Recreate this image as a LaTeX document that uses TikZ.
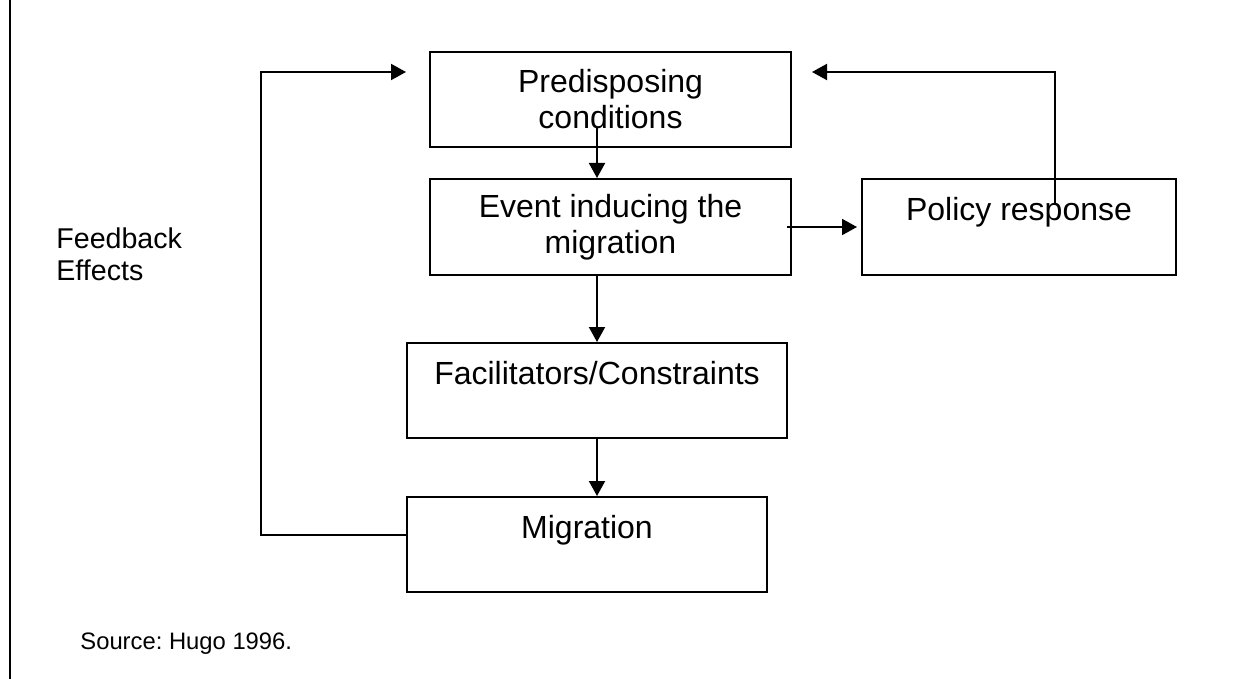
\documentclass[tikz,border=0pt]{standalone}
\usepackage{fontspec}
\setmainfont{Liberation Sans}
\frenchspacing
\usetikzlibrary{arrows.meta}

\begin{document}
\begin{tikzpicture}[
  x=0.5pt, y=-0.5pt,
  every node/.style={align=center},
  stage/.style={draw, line width=1pt, inner sep=0pt, font=\fontsize{16}{18}\selectfont},
  note/.style={inner sep=0pt, align=left},
  arr/.style={-{Triangle[length=7.5pt,width=8pt]}, line width=1pt},
]
\useasboundingbox (0,0) rectangle (1252,679);
\draw[line width=1pt] (9.5,0) -- (9.5,679);

\node[stage, minimum width=180.5pt, minimum height=47.5pt] (pre) at (610.5,99.5) {Predisposing\\conditions};
\node[stage, minimum width=180.5pt, minimum height=48pt] (evt) at (610.5,227) {Event inducing the\\migration};
\node[stage, minimum width=157pt, minimum height=48pt] (pol) at (1019,227) {Policy response\\\mbox{}};
\node[stage, minimum width=190pt, minimum height=47.5pt] (fac) at (597,390.5) {Facilitators/Constraints\\\mbox{}};
\node[stage, minimum width=180pt, minimum height=47.5pt] (mig) at (587,544.5) {Migration\\\mbox{}};

\node[note, anchor=west, font=\fontsize{14.3}{16}\selectfont] (fbk) at (56,254) {Feedback\\Effects};
\node[note, anchor=base west, font=\fontsize{11.9}{14}\selectfont] (src) at (80,649) {Source: Hugo 1996.};

\coordinate (preL) at (406,72);
\coordinate (preR) at (812,72);
\coordinate (polin) at (1055,203);

\draw[arr] ([yshift=10pt]pre.south -| fac.north) -- (evt.north -| fac.north);
\draw[arr] (evt.south -| fac.north) -- (fac.north);
\draw[arr] (fac.south) -- (fac.south |- mig.north);
\draw[arr] ([xshift=-2.5pt]evt.east) -- ([xshift=-2pt]pol.west);
\draw[arr] (polin) |- (preR);
\draw[arr] ([yshift=5pt]mig.west) -- ++(-145,0) |- (preL);
\end{tikzpicture}
\end{document}
